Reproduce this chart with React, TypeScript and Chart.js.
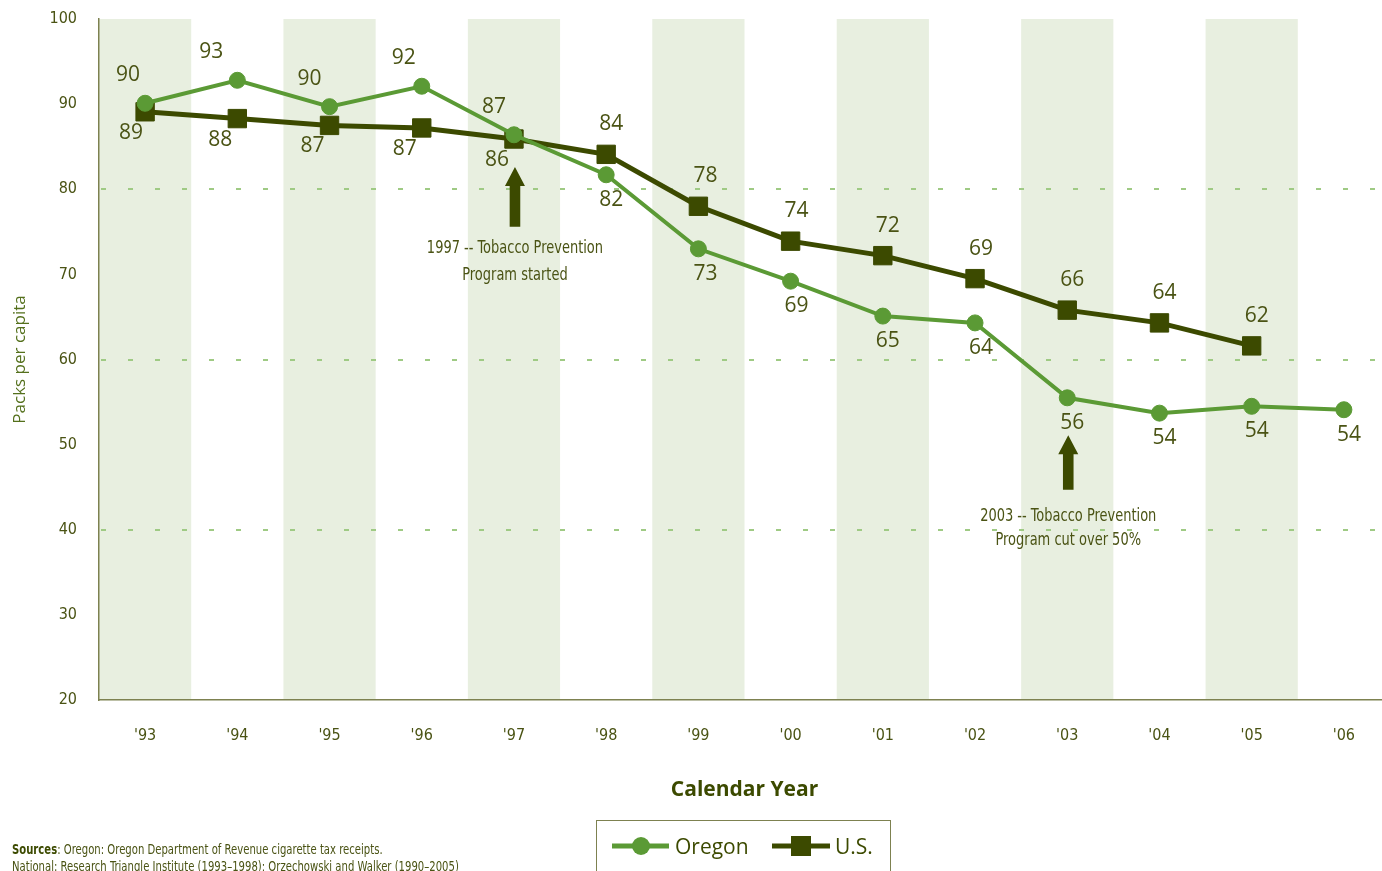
import React, { useEffect, useRef } from 'react';
import { Chart, registerables } from 'chart.js';

Chart.register(...registerables);

// ---------- data ----------
const YEARS = ["'93", "'94", "'95", "'96", "'97", "'98", "'99", "'00", "'01", "'02", "'03", "'04", "'05", "'06"];
const OREGON = [90.1, 92.8, 89.7, 92.1, 86.4, 81.7, 73.0, 69.2, 65.1, 64.3, 55.5, 53.7, 54.5, 54.1];
const US = [89.1, 88.3, 87.5, 87.2, 85.9, 84.1, 78.0, 73.9, 72.2, 69.5, 65.8, 64.3, 61.6, null];
const OREGON_LABELS = ['90', '93', '90', '92', '87', '82', '73', '69', '65', '64', '56', '54', '54', '54'];
const US_LABELS = ['89', '88', '87', '87', '86', '84', '78', '74', '72', '69', '66', '64', '62'];
const Y_MIN = 20;
const Y_MAX = 100;
const Y_STEP = 10;
const DASHED_GRID_VALUES = [40, 60, 80];
const ANNOTATION_TEXT_1 = ['1997 -- Tobacco Prevention', 'Program started'];
const ANNOTATION_TEXT_2 = ['2003 -- Tobacco Prevention', 'Program cut over 50%'];
const ANNOTATION_INDEX = [4, 10];

// ---------- styles ----------
const C_OREGON = '#5b9a35';
const C_US = '#3c4a00';
const C_TEXT = '#4a5314';
const C_AXIS = '#7d8150';
const C_BAND = '#e8efe0';
const C_GRID = '#9fca84';
const NARROW = "'DejaVu Sans Condensed', 'Liberation Sans Narrow', sans-serif";
const SANS = "'Open Sans', 'Noto Sans', sans-serif";

// label placement: 'a' above / 'b' below, dx shift
const OR_PLACE = ['a', 'a', 'a', 'a', 'a', 'b', 'b', 'b', 'b', 'b', 'b', 'b', 'b', 'b'];
const OR_DX = [-17, -26, -20, -18, -20, 5, 7, 6, 5, 6, 5, 5, 5, 5];
const US_PLACE = ['b', 'b', 'b', 'b', 'b', 'a', 'a', 'a', 'a', 'a', 'a', 'a', 'a'];
const US_DX = [-14, -17, -17, -17, -17, 5, 7, 6, 5, 6, 5, 5, 5];
// annotation geometry in data units: [arrow tip, arrow base, text line1, text line2]
const ANN_GEOM = [
  [82.6, 75.6, 73.0, 69.9],
  [51.1, 44.7, 41.6, 38.7],
];

const bandsPlugin = {
  id: 'bands',
  beforeDraw(chart: any) {
    const { ctx, chartArea, scales } = chart;
    const x = scales.x;
    const y = scales.y;
    const half = (x.getPixelForValue(1) - x.getPixelForValue(0)) / 2;
    ctx.save();
    ctx.fillStyle = C_BAND;
    for (let i = 0; i < YEARS.length; i += 2) {
      const cx = x.getPixelForValue(i);
      const l = Math.max(chartArea.left, cx - half);
      ctx.fillRect(l, chartArea.top, cx + half - l, chartArea.bottom - chartArea.top);
    }
    ctx.strokeStyle = C_GRID;
    ctx.lineWidth = 2;
    ctx.setLineDash([5, 22]);
    for (const v of DASHED_GRID_VALUES) {
      const py = Math.round(y.getPixelForValue(v));
      ctx.beginPath();
      ctx.moveTo(chartArea.left + 2, py);
      ctx.lineTo(chartArea.right, py);
      ctx.stroke();
    }
    ctx.restore();
  },
};

const labelsPlugin = {
  id: 'pointLabels',
  afterDatasetsDraw(chart: any) {
    const { ctx, scales } = chart;
    const x = scales.x;
    const y = scales.y;
    ctx.save();
    ctx.font = `21px ${SANS}`;
    ctx.fillStyle = C_TEXT;
    ctx.textAlign = 'center';
    ctx.textBaseline = 'middle';
    const drawSet = (meta: any, labels: string[], place: string[], dx: number[], above: number, below: number) => {
      meta.data.forEach((pt: any, i: number) => {
        if (labels[i] === undefined || pt.skip) return;
        const oy = place[i] === 'a' ? -above : below;
        ctx.fillText(labels[i], pt.x + dx[i], pt.y + oy);
      });
    };
    drawSet(chart.getDatasetMeta(0), OREGON_LABELS, OR_PLACE, OR_DX, 28, 25);
    drawSet(chart.getDatasetMeta(1), US_LABELS, US_PLACE, US_DX, 30, 21);

    // annotations
    const texts = [ANNOTATION_TEXT_1, ANNOTATION_TEXT_2];
    ANNOTATION_INDEX.forEach((idx, k) => {
      const g = ANN_GEOM[k];
      const cx = x.getPixelForValue(idx) + 1;
      const tip = y.getPixelForValue(g[0]);
      const base = y.getPixelForValue(g[1]);
      const headH = 19;
      const headW = 10;
      const shaft = 5.3;
      ctx.fillStyle = C_US;
      ctx.beginPath();
      ctx.moveTo(cx, tip);
      ctx.lineTo(cx + headW, tip + headH);
      ctx.lineTo(cx + shaft, tip + headH);
      ctx.lineTo(cx + shaft, base);
      ctx.lineTo(cx - shaft, base);
      ctx.lineTo(cx - shaft, tip + headH);
      ctx.lineTo(cx - headW, tip + headH);
      ctx.closePath();
      ctx.fill();
      ctx.fillStyle = C_TEXT;
      ctx.font = `17px ${NARROW}`;
      [g[2], g[3]].forEach((v, j) => {
        ctx.save();
        ctx.translate(cx, y.getPixelForValue(v));
        ctx.scale(0.85, 1);
        ctx.fillText(texts[k][j], 0, 0);
        ctx.restore();
      });
    });
    ctx.restore();
  },
};

export default function App() {
  const ref = useRef<HTMLCanvasElement>(null);

  useEffect(() => {
    if (!ref.current) return;
    const chart = new Chart(ref.current, {
      type: 'line',
      data: {
        labels: YEARS,
        datasets: [
          {
            label: 'Oregon',
            data: OREGON,
            borderColor: C_OREGON,
            backgroundColor: C_OREGON,
            borderWidth: 4,
            pointStyle: 'circle',
            pointRadius: 8,
            pointBorderWidth: 1,
            pointBorderColor: C_OREGON,
            pointBackgroundColor: C_OREGON,
            tension: 0,
          },
          {
            label: 'U.S.',
            data: US,
            borderColor: C_US,
            backgroundColor: C_US,
            borderWidth: 5,
            pointStyle: 'rect',
            pointRadius: 13,
            pointBorderWidth: 1,
            pointBorderColor: C_US,
            pointBackgroundColor: C_US,
            tension: 0,
          },
        ],
      },
      options: {
        animation: false,
        responsive: false,
        devicePixelRatio: 1,
        layout: { padding: { top: 19, left: 0, right: 0, bottom: 0 } },
        plugins: {
          legend: { display: false },
          tooltip: { enabled: false },
        },
        scales: {
          x: {
            type: 'category',
            offset: true,
            grid: { display: false, drawTicks: false },
            border: { display: true, color: C_AXIS, width: 1.5 },
            ticks: {
              color: C_TEXT,
              font: { family: NARROW, size: 16 },
              padding: 26,
              maxRotation: 0,
              autoSkip: false,
            },
            title: {
              display: true,
              text: 'Calendar Year',
              color: C_US,
              font: { family: SANS, size: 21, weight: 'bold' },
              padding: { top: 0, bottom: 68 },
            },
            afterFit(scale: any) {
              scale.height = 171;
            },
          },
          y: {
            min: Y_MIN,
            max: Y_MAX,
            grid: { display: false, drawTicks: false },
            border: { display: true, color: C_AXIS, width: 1.5 },
            ticks: {
              stepSize: Y_STEP,
              color: C_TEXT,
              font: { family: NARROW, size: 16 },
              padding: 22,
            },
            title: {
              display: true,
              text: 'Packs per capita',
              color: '#54701c',
              font: { family: SANS, size: 17 },
              padding: { top: 10, bottom: 0 },
            },
            afterFit(scale: any) {
              scale.width = 99;
              scale.paddingTop = 0;
              scale.paddingBottom = 0;
            },
          },
        },
      },
      plugins: [bandsPlugin, labelsPlugin],
    });
    return () => chart.destroy();
  }, []);

  return (
    <div
      style={{
        position: 'fixed',
        left: 0,
        top: 0,
        width: 1382,
        height: 871,
        overflow: 'hidden',
        background: '#ffffff',
      }}
    >
      <canvas ref={ref} width={1404} height={871} style={{ position: 'absolute', left: 0, top: 0, width: 1404, height: 871 }} />
      <div
        style={{
          position: 'absolute',
          left: 12,
          top: 841,
          fontFamily: NARROW,
          fontSize: 14,
          lineHeight: '17px',
          color: C_TEXT,
          whiteSpace: 'nowrap',
          transform: 'scaleX(0.8)',
          transformOrigin: 'left top',
        }}
      >
        <div>
          <b style={{ color: C_US }}>Sources</b>: Oregon: Oregon Department of Revenue cigarette tax receipts.
        </div>
        <div>National: Research Triangle Institute (1993–1998); Orzechowski and Walker (1990–2005)</div>
      </div>
      <div
        style={{
          position: 'absolute',
          left: 596,
          top: 820,
          width: 295,
          height: 70,
          border: `1.5px solid ${C_AXIS}`,
          boxSizing: 'border-box',
        }}
      >
        <svg width={295} height={50} style={{ position: 'absolute', left: 0, top: 0 }}>
          <line x1={15} y1={25} x2={72} y2={25} stroke={C_OREGON} strokeWidth={5} />
          <circle cx={44} cy={25} r={9} fill={C_OREGON} />
          <text x={78} y={33} fontFamily="Open Sans, Noto Sans, sans-serif" fontSize={21} fill={C_US}>
            Oregon
          </text>
          <line x1={175} y1={25} x2={233} y2={25} stroke={C_US} strokeWidth={5} />
          <rect x={194} y={15} width={20} height={20} fill={C_US} />
          <text x={238} y={33} fontFamily="Open Sans, Noto Sans, sans-serif" fontSize={21} fill={C_US}>
            U.S.
          </text>
        </svg>
      </div>
    </div>
  );
}
